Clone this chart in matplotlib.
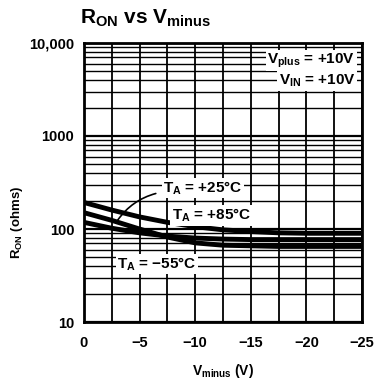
#!/usr/bin/env python3
# R_ON vs V_minus, tres temperaturas, eixo y log.

import matplotlib
matplotlib.use("Agg")
import matplotlib.pyplot as plt
from matplotlib.ticker import FixedLocator, NullFormatter, LogLocator

plt.rcParams["font.family"] = ["Liberation Sans", "DejaVu Sans"]
plt.rcParams["font.weight"] = "bold"
plt.rcParams["mathtext.fontset"] = "custom"
plt.rcParams["mathtext.bf"] = "Liberation Sans:bold"
plt.rcParams["mathtext.rm"] = "Liberation Sans:bold"
plt.rcParams["mathtext.default"] = "bf"

# dados
v_minus = [0, -2.5, -5, -7.5, -10, -12.5, -15, -17.5, -20, -22.5, -25]
r_85 = [193, 160, 135, 118, 106, 98, 94, 91, 90, 90, 90]
r_25 = [150, 124, 100, 82, 71, 67, 66, 65, 65, 65, 65]
r_m55 = [118, 102, 91, 84, 80, 78, 77, 77, 77, 77, 77]

xticks = [0, -5, -10, -15, -20, -25]
xtick_labels = ["0", "\u22125", "\u221210", "\u221215", "\u221220", "\u221225"]
yticks = [10, 100, 1000, 10000]
ytick_labels = ["10", "100", "1000", "10,000"]

fig = plt.figure(figsize=(3.78, 3.83), dpi=100)
ax = fig.add_axes([0.222, 0.159, 0.736, 0.729])

ax.set_yscale("log")
ax.set_xlim(0, -25)
ax.set_ylim(10, 10000)

# grade: verticais a cada 2,5 V, horizontais nos menores do log
ax.xaxis.set_major_locator(FixedLocator(xticks))
ax.xaxis.set_minor_locator(FixedLocator([-2.5, -7.5, -12.5, -17.5, -22.5]))
ax.yaxis.set_major_locator(FixedLocator(yticks))
ax.yaxis.set_minor_locator(LogLocator(base=10, subs=range(2, 10)))
ax.yaxis.set_minor_formatter(NullFormatter())
ax.grid(which="both", axis="x", color="black", lw=1.3)
ax.grid(which="major", axis="y", color="black", lw=1.6)
ax.grid(which="minor", axis="y", color="black", lw=1.0)
ax.set_axisbelow(True)
ax.tick_params(which="both", length=0, labelsize=10.5, pad=7)
ax.tick_params(axis="x", pad=10)
ax.set_xticklabels(xtick_labels, fontweight="bold")
ax.set_yticklabels(ytick_labels, fontweight="bold")
for s in ax.spines.values():
    s.set_linewidth(2)

for r in (r_85, r_25, r_m55):
    ax.plot(v_minus, r, color="black", lw=3.5, solid_capstyle="butt")

caixa = dict(facecolor="white", edgecolor="none", pad=1)
ax.text(-7.1, 276, r"T$_{A}$ = +25°C", fontsize=11, va="center", ha="left", bbox=caixa)
ax.text(-7.9, 140, r"T$_{A}$ = +85°C", fontsize=11, va="center", ha="left", bbox=caixa)
ax.text(-3.0, 42, "T$_{A}$ = \u221255°C", fontsize=11,
        va="center", ha="left", bbox=caixa)
ax.annotate("", xy=(-2.9, 118), xytext=(-6.7, 245),
            arrowprops=dict(arrowstyle="-", color="black", lw=1.2,
                            connectionstyle="arc3,rad=0.2"))

ax.text(-24.4, 6400, r"V$_{plus}$ = +10V", fontsize=11, ha="right", va="center", bbox=caixa)
ax.text(-24.4, 3900, r"V$_{IN}$ = +10V", fontsize=11, ha="right", va="center", bbox=caixa)

fig.text(0.045, 0.42, r"R$_{ON}$ (ohms)", fontsize=9.5, fontweight="bold",
         rotation=90, ha="center", va="center")
ax.set_xlabel(r"V$_{minus}$ (V)", fontsize=10, fontweight="bold", labelpad=9)
fig.text(0.212, 0.952, r"R$_{ON}$ vs V$_{minus}$", fontsize=15, fontweight="bold",
         ha="left", va="center")

fig.savefig("out.png", dpi=100)
